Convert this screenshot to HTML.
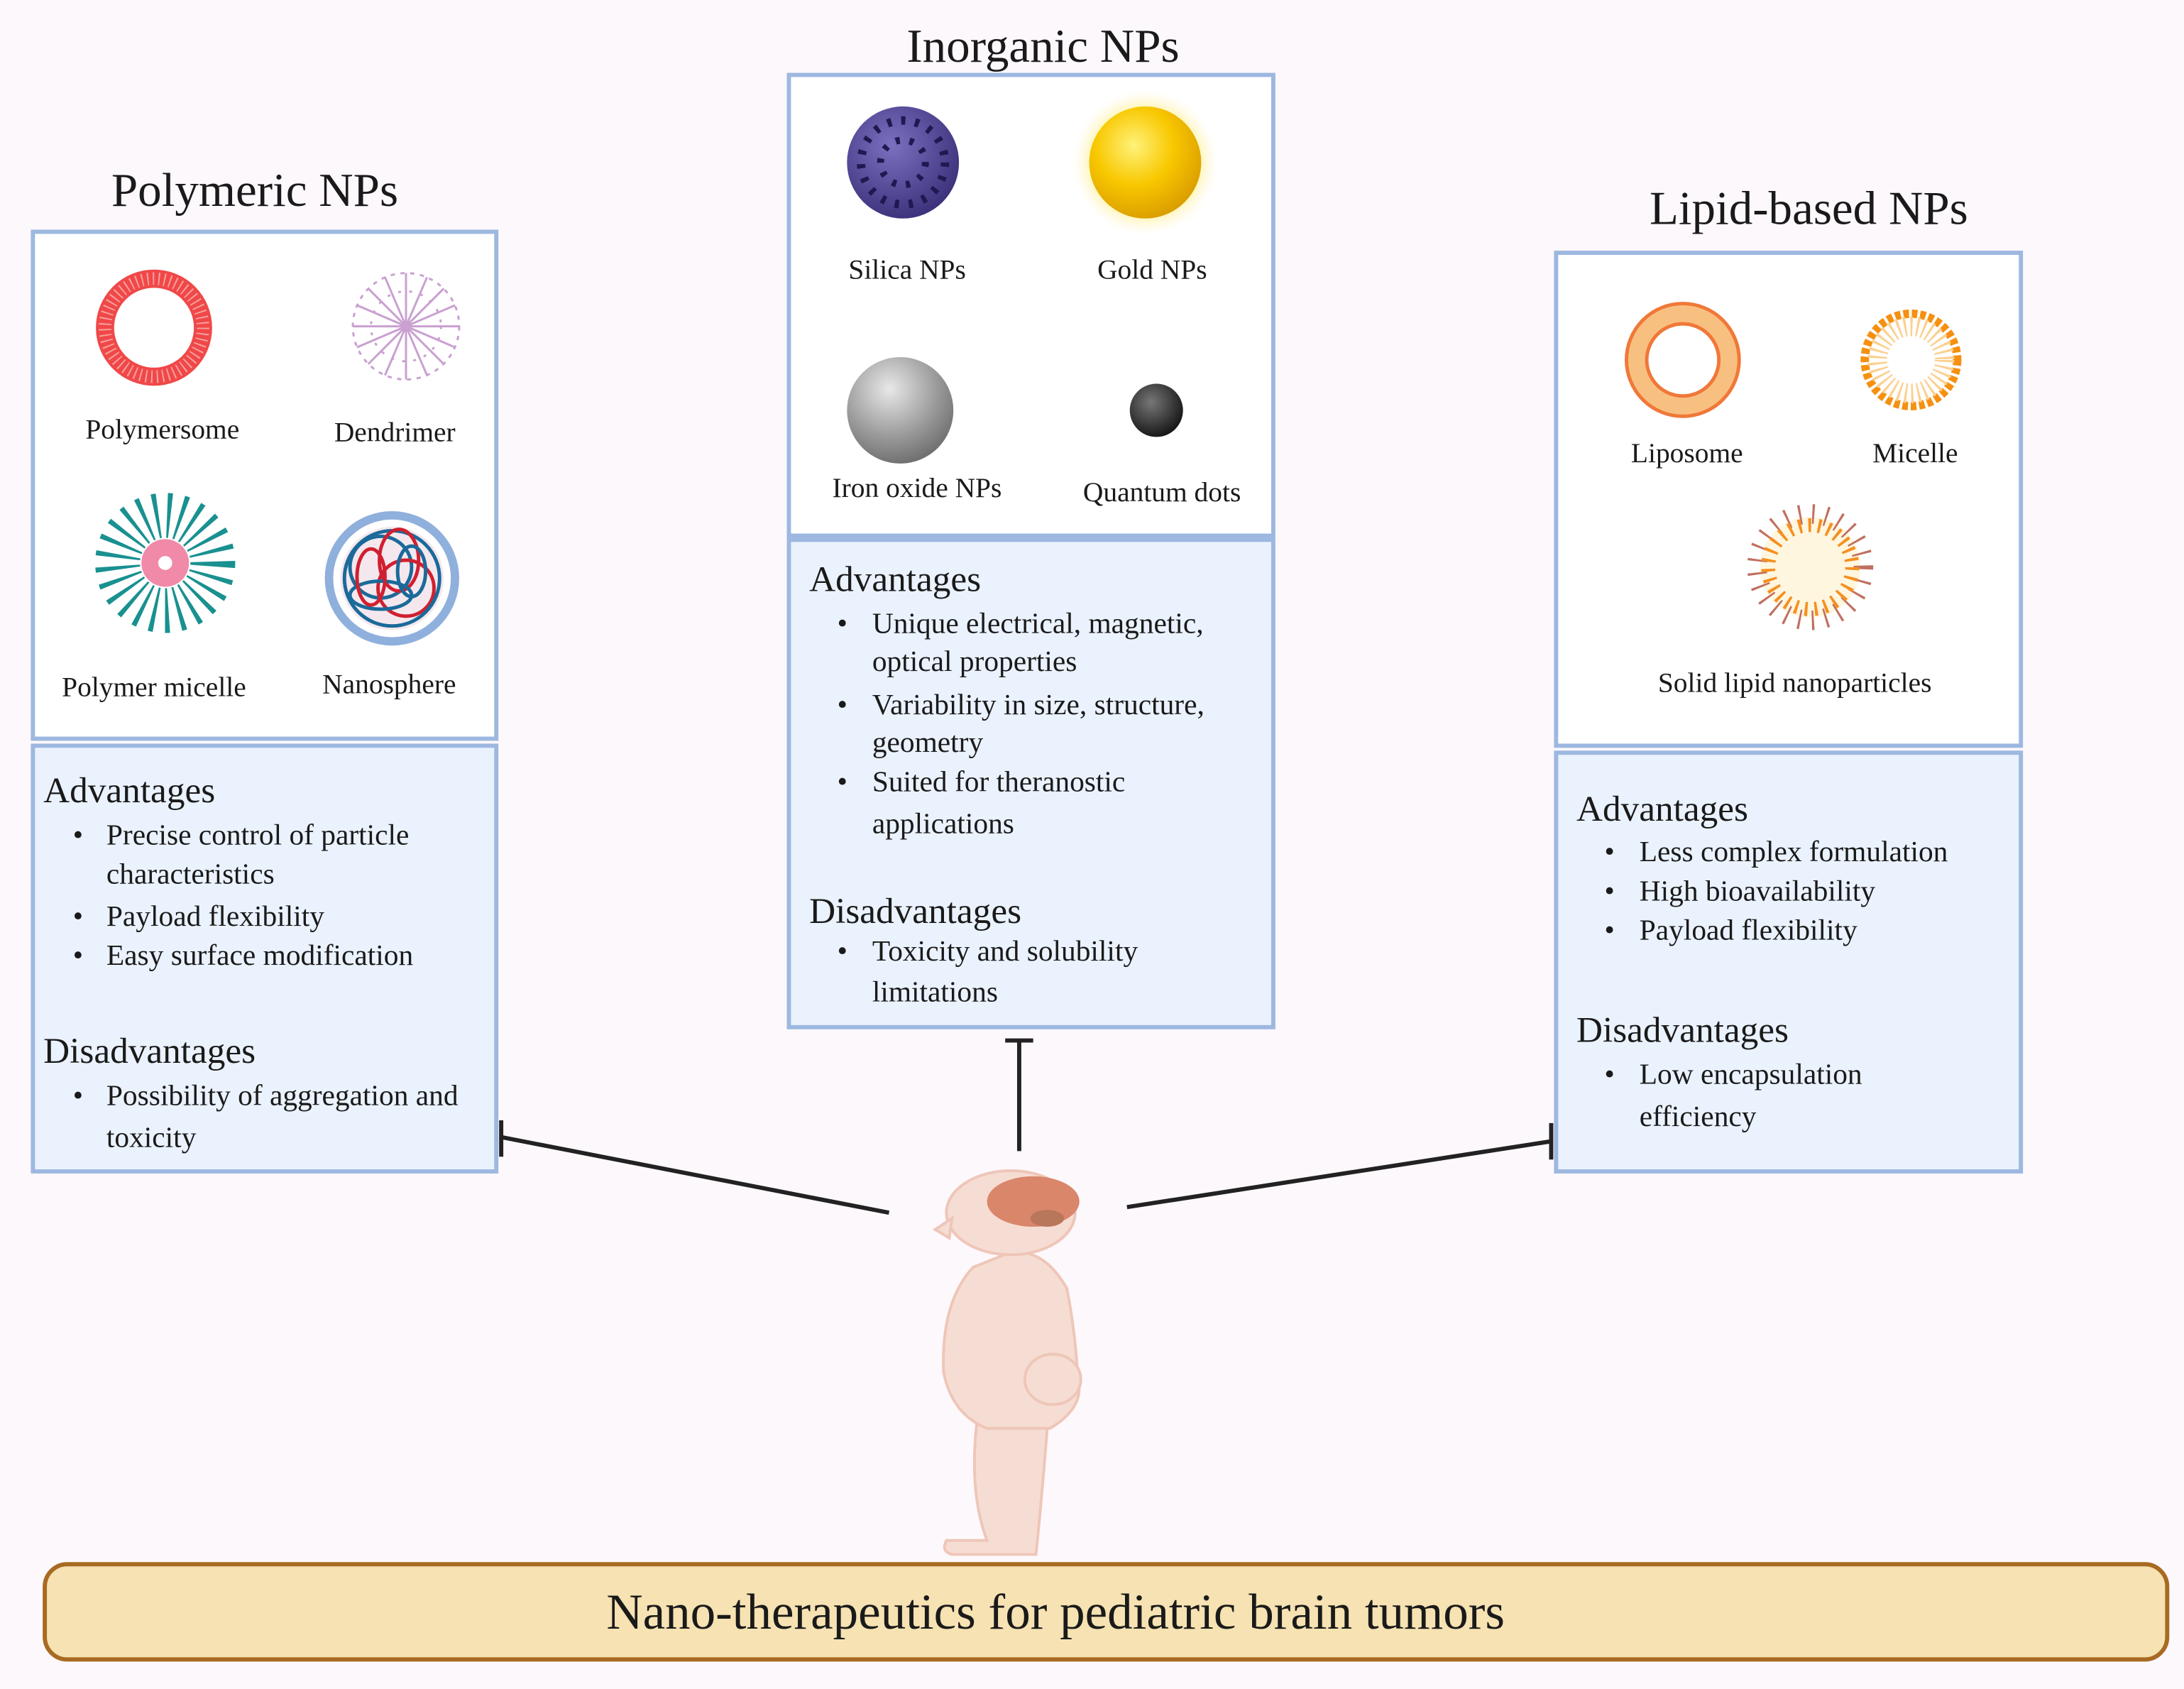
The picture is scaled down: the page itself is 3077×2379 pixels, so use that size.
<!DOCTYPE html>
<html><head><meta charset="utf-8"><style>
html,body{margin:0;padding:0;background:#fdf8fc;}
svg{display:block}
text{font-family:"Liberation Serif",serif;fill:#1a1a1a}
</style></head><body>
<svg width="3077" height="2379" viewBox="0 0 1560 1206.1" xmlns="http://www.w3.org/2000/svg">
<defs>
<radialGradient id="gold" cx="0.4" cy="0.35" r="0.7"><stop offset="0" stop-color="#fff27a"/><stop offset="0.5" stop-color="#f8c800"/><stop offset="1" stop-color="#d89a00"/></radialGradient>
<radialGradient id="glow" cx="0.5" cy="0.5" r="0.5"><stop offset="0.7" stop-color="#fff3a0"/><stop offset="1" stop-color="#fff8e0" stop-opacity="0"/></radialGradient>
<radialGradient id="iron" cx="0.4" cy="0.3" r="0.75"><stop offset="0" stop-color="#e8e8e8"/><stop offset="0.6" stop-color="#9a9a9a"/><stop offset="1" stop-color="#6a6a6a"/></radialGradient>
<radialGradient id="sil" cx="0.4" cy="0.35" r="0.7"><stop offset="0" stop-color="#7a70c0"/><stop offset="1" stop-color="#3a2f78"/></radialGradient>
<radialGradient id="qd" cx="0.4" cy="0.35" r="0.7"><stop offset="0" stop-color="#777"/><stop offset="1" stop-color="#111"/></radialGradient>
</defs>
<rect width="1560" height="1206.1" fill="#fdf8fc"/>

<!-- Titles -->
<text x="182" y="147" font-size="34" text-anchor="middle">Polymeric NPs</text>
<text x="745" y="44" font-size="34" text-anchor="middle">Inorganic NPs</text>
<text x="1292" y="160" font-size="34" text-anchor="middle">Lipid-based NPs</text>

<!-- Left box -->
<rect x="23.5" y="165.5" width="331" height="362" fill="#fff" stroke="#9db8e0" stroke-width="3"/>
<rect x="23.5" y="532.5" width="331" height="304" fill="#eaf2fd" stroke="#9db8e0" stroke-width="3"/>
<!-- polymersome -->
<circle cx="110" cy="234" r="35" fill="none" stroke="#f04848" stroke-width="13"/>
<circle cx="110" cy="234" r="35" fill="none" stroke="#f8a0a0" stroke-width="9" stroke-dasharray="1 3"/>
<!-- dendrimer -->
<g stroke="#c9a0d0" stroke-width="1.5" fill="none">
<circle cx="290" cy="233" r="38" stroke-dasharray="3 4"/>
<circle cx="290" cy="233" r="25" stroke-dasharray="2 6"/>
<path d="M290 233 L290 195 M290 233 L290 271 M290 233 L252 233 M290 233 L328 233 M290 233 L263 206 M290 233 L317 260 M290 233 L317 206 M290 233 L263 260 M290 233 L275 198 M290 233 L305 268 M290 233 L305 198 M290 233 L275 268 M290 233 L255 218 M290 233 L325 248 M290 233 L255 248 M290 233 L325 218"/>
</g>
<!-- polymer micelle -->
<circle cx="118" cy="402" r="34" fill="none" stroke="#1a9090" stroke-width="32" stroke-dasharray="2.5 6"/>
<circle cx="118" cy="402" r="17" fill="#f08aa8"/>
<circle cx="118" cy="402" r="5" fill="#fff"/>
<!-- nanosphere -->
<circle cx="280" cy="413" r="45" fill="#fff" stroke="#8fb0dc" stroke-width="6"/>
<circle cx="280" cy="413" r="37" fill="#f4e8ee"/>
<g fill="none" stroke-width="2.5">
<circle cx="272" cy="405" r="22" stroke="#1a6a9a"/>
<circle cx="290" cy="420" r="20" stroke="#d02030"/>
<circle cx="280" cy="413" r="34" stroke="#1a6a9a"/>
<ellipse cx="285" cy="400" rx="14" ry="22" stroke="#d02030"/>
<ellipse cx="272" cy="425" rx="22" ry="10" stroke="#1a6a9a"/>
<ellipse cx="294" cy="408" rx="10" ry="18" stroke="#1a6a9a"/>
<ellipse cx="265" cy="412" rx="10" ry="20" stroke="#d02030"/>
</g>
<g font-size="20" text-anchor="middle">
<text x="116" y="313">Polymersome</text>
<text x="282" y="315">Dendrimer</text>
<text x="110" y="497">Polymer micelle</text>
<text x="278" y="495">Nanosphere</text>
</g>
<text x="31" y="573" font-size="26">Advantages</text>
<g font-size="21">
<text x="52" y="603">•</text><text x="76" y="603">Precise control of particle</text>
<text x="76" y="631">characteristics</text>
<text x="52" y="661">•</text><text x="76" y="661">Payload flexibility</text>
<text x="52" y="689">•</text><text x="76" y="689">Easy surface modification</text>
</g>
<text x="31" y="759" font-size="26">Disadvantages</text>
<g font-size="21">
<text x="52" y="789">•</text><text x="76" y="789">Possibility of aggregation and</text>
<text x="76" y="819">toxicity</text>
</g>

<!-- Middle box -->
<rect x="563.5" y="53.5" width="346" height="329" fill="#fff" stroke="#9db8e0" stroke-width="3"/>
<rect x="563.5" y="385.5" width="346" height="348" fill="#eaf2fd" stroke="#9db8e0" stroke-width="3"/>
<circle cx="645" cy="116" r="40" fill="url(#sil)"/>
<circle cx="645" cy="116" r="30" fill="none" stroke="#201850" stroke-width="6" stroke-dasharray="3 7"/>
<circle cx="645" cy="116" r="16" fill="none" stroke="#201850" stroke-width="5" stroke-dasharray="3 7"/>
<circle cx="818" cy="116" r="52" fill="url(#glow)"/>
<circle cx="818" cy="116" r="40" fill="url(#gold)"/>
<circle cx="643" cy="293" r="38" fill="url(#iron)"/>
<circle cx="826" cy="293" r="19" fill="url(#qd)"/>
<g font-size="20" text-anchor="middle">
<text x="648" y="199">Silica NPs</text>
<text x="823" y="199">Gold NPs</text>
<text x="655" y="355">Iron oxide NPs</text>
<text x="830" y="358">Quantum dots</text>
</g>
<text x="578" y="422" font-size="26">Advantages</text>
<g font-size="21">
<text x="598" y="452">•</text><text x="623" y="452">Unique electrical, magnetic,</text>
<text x="623" y="479">optical properties</text>
<text x="598" y="510">•</text><text x="623" y="510">Variability in size, structure,</text>
<text x="623" y="537">geometry</text>
<text x="598" y="565">•</text><text x="623" y="565">Suited for theranostic</text>
<text x="623" y="595">applications</text>
</g>
<text x="578" y="659" font-size="26">Disadvantages</text>
<g font-size="21">
<text x="598" y="686">•</text><text x="623" y="686">Toxicity and solubility</text>
<text x="623" y="715">limitations</text>
</g>

<!-- Right box -->
<rect x="1111.5" y="180.5" width="332" height="352" fill="#fff" stroke="#9db8e0" stroke-width="3"/>
<rect x="1111.5" y="537.5" width="332" height="299" fill="#eaf2fd" stroke="#9db8e0" stroke-width="3"/>
<circle cx="1202" cy="257" r="33" fill="none" stroke="#f07838" stroke-width="17"/>
<circle cx="1202" cy="257" r="33" fill="none" stroke="#f8c080" stroke-width="12"/>
<circle cx="1365" cy="257" r="33" fill="none" stroke="#f59010" stroke-width="6" stroke-dasharray="4 2"/>
<circle cx="1365" cy="257" r="24" fill="none" stroke="#fbd090" stroke-width="14" stroke-dasharray="1.5 3"/>
<circle cx="1293" cy="405" r="36" fill="#fff6e0"/>
<circle cx="1293" cy="405" r="38" fill="none" stroke="#c07060" stroke-width="14" stroke-dasharray="1.5 8"/>
<circle cx="1293" cy="405" r="30" fill="none" stroke="#f59020" stroke-width="10" stroke-dasharray="2 5"/>
<g font-size="20" text-anchor="middle">
<text x="1205" y="330">Liposome</text>
<text x="1368" y="330">Micelle</text>
<text x="1282" y="494">Solid lipid nanoparticles</text>
</g>
<text x="1126" y="586" font-size="26">Advantages</text>
<g font-size="21">
<text x="1146" y="615">•</text><text x="1171" y="615">Less complex formulation</text>
<text x="1146" y="643">•</text><text x="1171" y="643">High bioavailability</text>
<text x="1146" y="671">•</text><text x="1171" y="671">Payload flexibility</text>
</g>
<text x="1126" y="744" font-size="26">Disadvantages</text>
<g font-size="21">
<text x="1146" y="774">•</text><text x="1171" y="774">Low encapsulation</text>
<text x="1171" y="804">efficiency</text>
</g>

<!-- connectors -->
<g stroke="#222" stroke-width="3" fill="none">
<line x1="635" y1="866" x2="358" y2="812"/>
<line x1="358" y1="800" x2="358" y2="826"/>
<line x1="728" y1="822" x2="728" y2="743"/>
<line x1="718" y1="743" x2="738" y2="743"/>
<line x1="805" y1="862" x2="1108" y2="815"/>
<line x1="1108" y1="802" x2="1108" y2="828"/>
</g>

<!-- child figure -->
<g fill="#f6ddd3" stroke="#eec6b8" stroke-width="2">
<path d="M700 1000 Q690 1060 705 1100 L676 1100 Q672 1108 680 1110 L740 1110 Q745 1060 748 1020 Z"/>
<path d="M695 905 Q672 930 674 980 Q680 1010 705 1020 L750 1020 Q775 1005 770 985 Q768 950 762 920 Q745 890 720 895 Z"/>
<ellipse cx="752" cy="985" rx="20" ry="18"/>
<ellipse cx="722" cy="866" rx="46" ry="30"/>
<path d="M680 870 L668 878 L678 884 Z"/>
</g>
<ellipse cx="738" cy="858" rx="33" ry="18" fill="#d9866a"/>
<ellipse cx="748" cy="870" rx="12" ry="6" fill="#b8765a"/>

<!-- bottom bar -->
<rect x="32" y="1117" width="1516" height="68" rx="16" fill="#f6e2b2" stroke="#a86a22" stroke-width="3"/>
<text x="754" y="1163" font-size="36" text-anchor="middle">Nano-therapeutics for pediatric brain tumors</text>
</svg>
</body></html>
